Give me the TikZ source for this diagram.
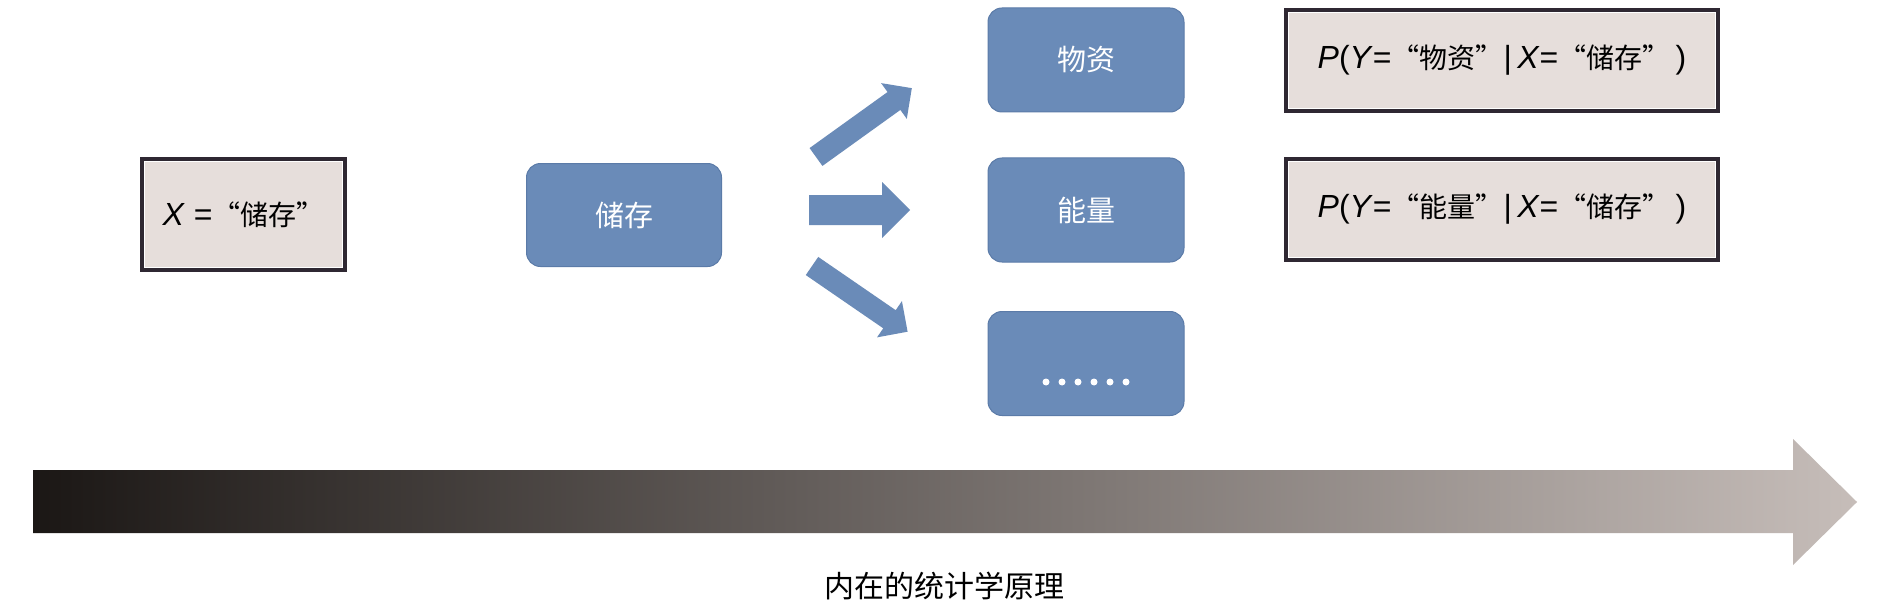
\documentclass[tikz,border=0pt]{standalone}
\usepackage{fontspec}
\setmainfont{Liberation Sans}
\newfontfamily\cjk{Noto Sans CJK SC}
\definecolor{boxblue}{HTML}{6A8BB8}
\definecolor{boxblueedge}{HTML}{5B7BA8}
\definecolor{greyfill}{HTML}{E6DEDB}
\definecolor{darkedge}{HTML}{2F2832}
\definecolor{arrL}{HTML}{1B1715}
\definecolor{arrR}{HTML}{C6BDB9}
\newcommand{\cq}[1]{{\cjk\fontsize{28}{34}\selectfont #1}}
\begin{document}
\begin{tikzpicture}[x=1pt,y=-1pt,
  bluebox/.style={draw=boxblueedge, line width=1pt, fill=boxblue, rounded corners=14pt,
    text=white, font=\cjk\fontsize{29}{34}\selectfont, inner sep=0pt,
    minimum width=196pt, minimum height=104pt},
  greybox/.style={draw=darkedge, line width=3.5pt, fill=greyfill, inner sep=0pt,
    font=\fontsize{32}{38}\selectfont},
  innerline/.style={draw=white, line width=1pt},
  blockarrow/.style={fill=boxblue, draw=none},
  dot/.style={circle, fill=white, inner sep=0pt, minimum size=7pt}
]
\useasboundingbox (0,0) rectangle (1890,607);
\fill[white] (0,0) rectangle (1890,607);

% left grey box
\node[greybox, minimum width=203pt, minimum height=111pt] (x) at (243.5,214.5)
  {\textit{X} =\cq{“储存”}};
\draw[innerline] ([shift={(4,4)}]x.north west) rectangle ([shift={(-4,-4)}]x.south east);

% blue boxes
\node[bluebox, minimum width=195pt, minimum height=103pt] (src) at (624,215) {储存};
\node[bluebox] (wz) at (1086,60) {物资};
\node[bluebox] (nl) at (1086,210) {能量};
\node[bluebox] (more) at (1086,363.5) {};
\foreach \i in {0,...,5}
  \node[dot] (d\i) at (1046+16*\i,382) {};

% probability boxes
\node[greybox, minimum width=432pt, minimum height=101pt] (p1) at (1502,60.5)
  {\textit{P}(\textit{Y}=\cq{“物资”}|\,\textit{X}=\cq{“储存”}\,)};
\draw[innerline] ([shift={(4,4)}]p1.north west) rectangle ([shift={(-4,-4)}]p1.south east);
\node[greybox, minimum width=432pt, minimum height=101pt] (p2) at (1502,209.5)
  {\textit{P}(\textit{Y}=\cq{“能量”}|\,\textit{X}=\cq{“储存”}\,)};
\draw[innerline] ([shift={(4,4)}]p2.north west) rectangle ([shift={(-4,-4)}]p2.south east);

% block arrows
\begin{scope}[shift={(816,157)}, rotate=35.7]
  \fill[blockarrow] (0,-11) -- (96,-11) -- (96,-22) -- (118,0) -- (96,22) -- (96,11) -- (0,11) -- cycle;
\end{scope}
\begin{scope}[shift={(809,210)}]
  \fill[blockarrow] (0,-15) -- (73,-15) -- (73,-28) -- (101,0) -- (73,28) -- (73,15) -- (0,15) -- cycle;
\end{scope}
\begin{scope}[shift={(812,266)}, rotate=-34.5]
  \fill[blockarrow] (0,-11) -- (94,-11) -- (94,-22) -- (116,0) -- (94,22) -- (94,11) -- (0,11) -- cycle;
\end{scope}

% big gradient arrow
\shade[left color=arrL, right color=arrR]
  (33,470) -- (1793,470) -- (1793,439) -- (1857,502) -- (1793,565) -- (1793,533) -- (33,533) -- cycle;

\node[font=\cjk\fontsize{30}{36}\selectfont, inner sep=0pt] (lbl) at (944,586) {内在的统计学原理};
\end{tikzpicture}
\end{document}
